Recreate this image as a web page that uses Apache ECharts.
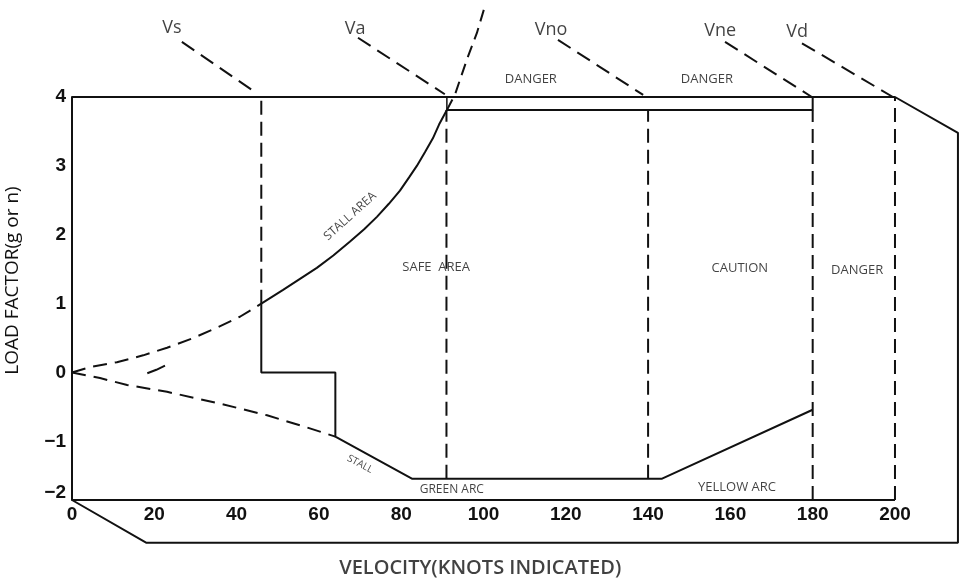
<!DOCTYPE html>
<html>
<head>
<meta charset="utf-8">
<script src="https://cdn.jsdelivr.net/npm/echarts@6/dist/echarts.min.js"></script>
<style>
html,body{margin:0;padding:0;background:#fff;}
#chart{width:960px;height:581px;}
</style>
</head>
<body>
<div id="chart"></div>
<script>
// ---- data (velocity in knots, load factor n) ----
const xTickValues = [0, 20, 40, 60, 80, 100, 120, 140, 160, 180, 200];
const yTickValues = [-1.75, -1, 0, 1, 2, 3, 4];
const yTickLabels = ['\u22122', '\u22121', '0', '1', '2', '3', '4'];
const xTitle = 'VELOCITY(KNOTS INDICATED)';
const xTitlePos = [99.2, -2.84];
const yTitle = 'LOAD FACTOR(g or n)';

const stallPosDashed = [[0,0],[4.4,0.08],[10.9,0.15],[17.3,0.25],[23.1,0.36],[29.4,0.5],[35.2,0.65],[40.8,0.81],[46,1.0]];
const stallPosSolid  = [[46,1.0],[51.3,1.2],[55.4,1.36],[59.5,1.52],[63.5,1.7],[67.5,1.9],[71,2.08],[74.1,2.26],[77,2.45],[79.7,2.64],[82,2.84],[83.8,3.0],[85.8,3.2],[87.7,3.4],[89.2,3.6],[91.1,3.81]];
const stallPosAbove  = [[91.1,3.81],[93.1,4.04],[96,4.55],[98.4,4.93],[100.5,5.35]];
const stallNegDashed = [[0,0],[6.8,-0.08],[13.4,-0.18],[23.1,-0.28],[35.2,-0.44],[47.4,-0.62],[57.8,-0.81],[64,-0.93]];
const strayDash      = [[18.3,-0.01],[20.5,0.04],[22.6,0.1]];
const envelopeLower  = [[46,1],[46,0],[64,0],[64,-0.93],[82.6,-1.54],[143.4,-1.54],[180,-0.54]];
const envelopeTop    = [[91.1,3.81],[180,3.81],[180,4]];
const vaStub         = [[91.1,3.81],[91.1,4]];
const frameOutline   = [[0,4],[200,4],[215.3,3.48],[215.3,-2.47],[18,-2.47],[0,-1.85],[200,-1.85]];

const speedNames  = ['Vs','Va','Vno','Vne','Vd'];
const speedX      = [46, 91, 140, 180, 200];
const speedLow    = [1, -1.54, -1.54, -1.85, -1.85];
const speedHigh   = [4, 3.81, 3.81, 3.81, 4];
const leaderStart = [[26.7,4.80],[69.5,4.86],[118.1,4.83],[158.7,4.80],[177.4,4.78]];
const leaderEnd   = [[44.5,4.07],[90.6,4.04],[138.8,4.03],[179.8,4.0],[199.5,4.0]];
const speedLabelPos = [[24.3,5.0],[68.8,4.99],[116.4,4.97],[157.5,4.96],[176.2,4.95]];

const areaText   = ['DANGER','DANGER','SAFE  AREA','CAUTION','DANGER','STALL AREA','STALL','GREEN ARC','YELLOW ARC'];
const areaX      = [111.5, 154.3, 88.5, 162.3, 190.8, 67.6, 70.0, 92.3, 161.6];
const areaY      = [4.25, 4.25, 1.53, 1.52, 1.49, 2.27, -1.33, -1.70, -1.67];
const areaRotate = [0, 0, 0, 0, 0, 42, -28, 0, 0];
const areaSize   = [13, 13, 13, 13, 13, 12, 10, 12, 13];

// ---- build ----
const INK = '#111';
const FONT = '"Open Sans", Lato, sans-serif';
function solid(data, w) {
  return {type:'line', data, symbol:'none', clip:false, silent:true, animation:false,
    lineStyle:{color:INK, width:w||2, type:'solid'}};
}
function dashed(data, dash, w) {
  return {type:'line', data, symbol:'none', clip:false, silent:true, animation:false,
    lineStyle:{color:INK, width:w||2, type:dash}};
}
const series = [
  dashed(stallPosDashed, [14,8]),
  solid(stallPosSolid),
  dashed(stallPosAbove, [12,7]),
  dashed(stallNegDashed, [14,8]),
  solid(strayDash),
  solid(envelopeLower),
  solid(envelopeTop),
  solid(vaStub, 1.5),
  solid(frameOutline),
];
speedX.forEach((x, i) => {
  series.push(dashed([[x, speedLow[i]], [x, speedHigh[i]]], [14,7]));
  series.push(dashed([leaderStart[i], leaderEnd[i]], [15,8]));
});
series.push({
  type:'scatter', symbolSize:0, clip:false, silent:true, animation:false,
  data: speedNames.map((n, i) => ({value: speedLabelPos[i], name: n})),
  label:{show:true, position:'inside', formatter:'{b}', color:INK, fontFamily:FONT, fontSize:18}
});
series.push({
  type:'scatter', symbolSize:0, clip:false, silent:true, animation:false,
  data: areaText.map((t, i) => ({value:[areaX[i], areaY[i]], name:t,
    label:{rotate: areaRotate[i], fontSize: areaSize[i]}})),
  label:{show:true, position:'inside', formatter:'{b}', color:INK, fontFamily:FONT, fontSize:12}
});
series.push({
  type:'scatter', symbolSize:0, clip:false, silent:true, animation:false,
  data: [{value: xTitlePos, name: xTitle}],
  label:{show:true, position:'inside', formatter:'{b}', color:INK, fontFamily:FONT, fontSize:20, fontWeight:600}
});

const chart = echarts.init(document.getElementById('chart'), null, {renderer:'canvas'});
chart.setOption({
  backgroundColor:'#fff',
  animation:false,
  grid:{left:72, right:0, top:97, bottom:81, outerBoundsMode:'none', containLabel:false},
  xAxis:{
    type:'value', min:0, max:215.8,
    axisLine:{show:false, onZero:false},
    axisTick:{show:false}, splitLine:{show:false},
    axisLabel:{color:INK, customValues: xTickValues, fontFamily:'"Liberation Sans", Arial, sans-serif', fontWeight:'bold', fontSize:19, margin:5}
  },
  yAxis:{
    type:'value', min:-1.85, max:4,
    name: yTitle, nameLocation:'middle', nameGap:50, nameRotate:90,
    nameTextStyle:{color:INK, fontFamily:FONT, fontSize:19, padding:[0,0,0,36]},
    axisLine:{show:true, onZero:false, lineStyle:{color:INK, width:2}},
    axisTick:{show:false}, splitLine:{show:false},
    axisLabel:{color:INK, customValues: yTickValues,
      formatter: v => yTickLabels[yTickValues.indexOf(v)] ?? String(v),
      fontFamily:'"Liberation Sans", Arial, sans-serif', fontWeight:'bold', fontSize:19, margin:6}
  },
  series
});
</script>
</body>
</html>
